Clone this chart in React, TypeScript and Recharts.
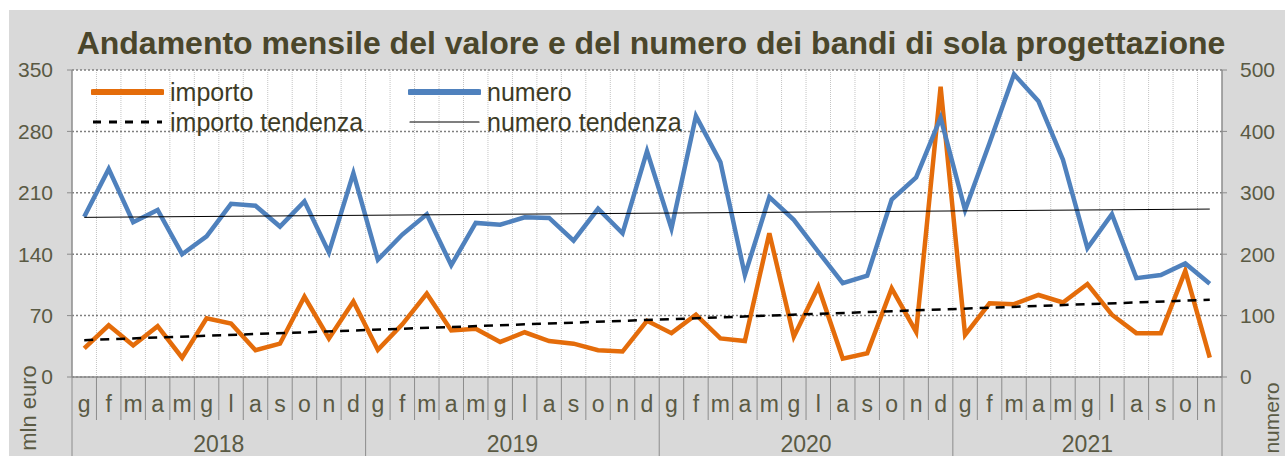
import React from "react";
import { LineChart, Line, XAxis, YAxis, CartesianGrid } from "recharts";

const MESI = ["g", "f", "m", "a", "m", "g", "l", "a", "s", "o", "n", "d"];
const ANNI = ["2018", "2019", "2020", "2021"];
const MESI_PER_ANNO = [12, 12, 12, 11];

// mln euro (asse sinistro)
const IMPORTO = [
  32.5, 59, 36, 58, 22, 67, 61, 30.5, 38, 91.5, 44, 86,
  31, 60, 95, 53, 55, 40, 51, 41, 38, 30.5, 29, 64,
  50, 71, 44, 41, 164, 46, 103, 21, 27, 101, 51.5, 331,
  48, 84, 83, 93.5, 85, 106, 71, 50, 50, 121, 22,
];
// numero bandi (asse destro)
const NUMERO = [
  261, 339, 252, 272, 200, 229, 282, 279, 245, 286, 203, 332,
  191, 232, 265, 182, 251, 248, 260, 259, 222, 274, 234, 368,
  242, 425, 350, 166, 293, 256, 204, 153, 165, 289, 325, 422,
  272, 381, 493, 449, 354, 210, 265, 161, 166, 185, 152,
];
// linee di tendenza: valore iniziale e finale
const IMPORTO_TENDENZA = [42, 88];
const NUMERO_TENDENZA = [260, 273.5];

const TICK_SX = [0, 70, 140, 210, 280, 350];
const TICK_DX = [0, 100, 200, 300, 400, 500];

const W = 1285;
const H = 456;
const LEFT = 72;
const RIGHT = 63;
const TOP = 70;
const BOTTOM = 79;
const FONT = '"Liberation Sans", Arial, sans-serif';
const TXT = "#5a5a44";
const AXIS = "#8c8c8c";
const ORANGE = "#E46C0A";
const BLUE = "#4F81BD";

const data: any[] = [];
ANNI.forEach((anno, a) => {
  for (let m = 0; m < MESI_PER_ANNO[a]; m++) {
    data.push({ key: `${anno}-${m}`, mese: MESI[m], anno, m, count: MESI_PER_ANNO[a] });
  }
});
data.forEach((d, i) => {
  d.i = i;
  d.importo = IMPORTO[i];
  d.numero = NUMERO[i];
  const last = i === data.length - 1;
  d.impTrend = i === 0 ? IMPORTO_TENDENZA[0] : last ? IMPORTO_TENDENZA[1] : null;
  d.numTrend = i === 0 ? NUMERO_TENDENZA[0] : last ? NUMERO_TENDENZA[1] : null;
});
const byKey: Record<string, any> = {};
data.forEach((d) => (byKey[d.key] = d));

const BAND = (W - LEFT - RIGHT) / data.length;

function MonthTick(props: any) {
  const { x, y, payload } = props;
  const row = byKey[payload.value];
  if (!row) return null;
  const left = x - BAND / 2;
  return (
    <g>
      <line x1={left} x2={left} y1={y} y2={row.m === 0 ? H : y + 43} stroke={AXIS} />
      {row.i === data.length - 1 && (
        <line x1={left + BAND} x2={left + BAND} y1={y} y2={H} stroke={AXIS} />
      )}
      <text x={x} y={y + 35} textAnchor="middle" fontSize={23} fill={TXT} fontFamily={FONT}>
        {row.mese}
      </text>
      {row.m === 0 && (
        <text x={left + (row.count * BAND) / 2} y={y + 75} textAnchor="middle" fontSize={23} fill={TXT} fontFamily={FONT}>
          {row.anno}
        </text>
      )}
    </g>
  );
}

const LEGEND = [
  { label: "importo", color: ORANGE, width: 6, dash: undefined },
  { label: "numero", color: BLUE, width: 6, dash: undefined },
  { label: "importo tendenza", color: "#000", width: 3, dash: "8 8" },
  { label: "numero tendenza", color: "#000", width: 1.2, dash: undefined },
];

function ChartLegend() {
  return (
    <div
      style={{
        position: "absolute", left: 91, top: 77,
        display: "grid", gridTemplateColumns: "317px 317px",
        fontFamily: FONT, fontSize: 25, color: "#3d3b26",
      }}
    >
      {LEGEND.map((l) => (
        <div key={l.label} style={{ display: "flex", alignItems: "center", height: 30 }}>
          <svg width={73} height={10}>
            <line x1={2} x2={71} y1={5} y2={5} stroke={l.color} strokeWidth={l.width} strokeDasharray={l.dash} strokeLinecap={l.dash ? "butt" : "round"} />
          </svg>
          <span style={{ marginLeft: 6 }}>{l.label}</span>
        </div>
      ))}
    </div>
  );
}

export default function App() {
  return (
    <div style={{ position: "fixed", left: 0, top: 0, width: W, height: H, background: "#fff", overflow: "hidden" }}>
      <div style={{ position: "absolute", left: 9, top: 10, right: 0, bottom: 0, background: "#d9d9d9" }} />
      <div style={{ position: "absolute", left: 0, top: 0 }}>
        <LineChart width={W} height={H} data={data} margin={{ top: TOP, right: 0, left: 0, bottom: 0 }}>
          <CartesianGrid
            yAxisId="sx"
            horizontal={false}
            fill="#fff"
            stroke="#c4c4c4"
            strokeDasharray="1 1"
            verticalCoordinatesGenerator={({ offset }: any) =>
              data.slice(1).map((_, i) => offset.left + ((i + 1) * offset.width) / data.length)
            }
          />
          <CartesianGrid yAxisId="sx" vertical={false} stroke="#7f7f7f" strokeWidth={1.5} strokeDasharray="2 2" />
          <XAxis
            dataKey="key"
            scale="band"
            height={BOTTOM}
            interval={0}
            tickLine={false}
            tickSize={0}
            tickMargin={0}
            axisLine={{ stroke: AXIS, strokeWidth: 1.5 }}
            tick={<MonthTick />}
          />
          <YAxis
            yAxisId="sx"
            width={LEFT}
            domain={[0, 350]}
            ticks={TICK_SX}
            interval={0}
            tickSize={5}
            tickMargin={14}
            axisLine={{ stroke: AXIS, strokeWidth: 1.5 }}
            tickLine={{ stroke: AXIS }}
            tick={{ fontSize: 21, fill: TXT, fontFamily: FONT }}
          />
          <YAxis
            yAxisId="dx"
            orientation="right"
            width={RIGHT}
            domain={[0, 500]}
            ticks={TICK_DX}
            interval={0}
            tickSize={5}
            tickMargin={13}
            axisLine={{ stroke: AXIS, strokeWidth: 1.5 }}
            tickLine={{ stroke: AXIS }}
            tick={{ fontSize: 21, fill: TXT, fontFamily: FONT, textAnchor: "start" }}
          />
          <Line yAxisId="sx" dataKey="importo" stroke={ORANGE} strokeWidth={4.5} dot={false} isAnimationActive={false} />
          <Line yAxisId="dx" dataKey="numero" stroke={BLUE} strokeWidth={4.5} dot={false} isAnimationActive={false} />
          <Line yAxisId="sx" dataKey="impTrend" stroke="#000" strokeWidth={2.5} strokeDasharray="9 7" dot={false} connectNulls isAnimationActive={false} />
          <Line yAxisId="dx" dataKey="numTrend" stroke="#000" strokeWidth={1} dot={false} connectNulls isAnimationActive={false} />
        </LineChart>
      </div>
      <ChartLegend />
      <svg width={W} height={H} style={{ position: "absolute", left: 0, top: 0, pointerEvents: "none" }}>
        <text x={651} y={54} textAnchor="middle" fontSize={32} fontWeight="bold" fill="#4a462b" fontFamily={FONT}>
          Andamento mensile del valore e del numero dei bandi di sola progettazione
        </text>
        <text transform="translate(36 408) rotate(-90)" textAnchor="middle" fontSize={22} fill={TXT} fontFamily={FONT}>
          mln euro
        </text>
        <text transform="translate(1279 418) rotate(-90)" textAnchor="middle" fontSize={21} fill={TXT} fontFamily={FONT}>
          numero
        </text>
      </svg>
    </div>
  );
}
